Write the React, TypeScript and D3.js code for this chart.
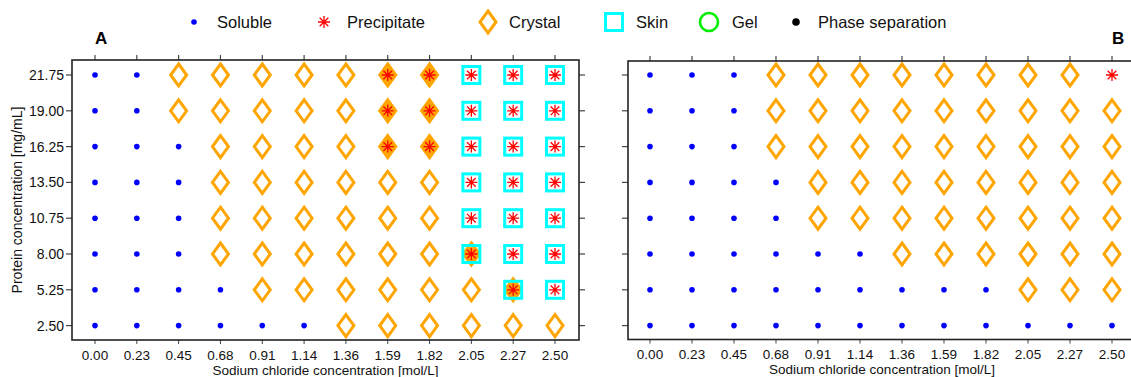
import React from "react";
import * as d3 from "d3";

// Sodium chloride concentrations (mol/L), one column per value
const sodiumChloride = [0, 0.2273, 0.4545, 0.6818, 0.9091, 1.1364, 1.3636, 1.5909, 1.8182, 2.0455, 2.2727, 2.5];
const sodiumTickLabels = ["0.00", "0.23", "0.45", "0.68", "0.91", "1.14", "1.36", "1.59", "1.82", "2.05", "2.27", "2.50"];

// Protein concentrations (mg/mL), rows listed top to bottom
const proteinConc = [21.75, 19.0, 16.25, 13.5, 10.75, 8.0, 5.25, 2.5];
const proteinTickLabels = ["21.75", "19.00", "16.25", "13.50", "10.75", "8.00", "5.25", "2.50"];

// Outcome codes: S soluble, C crystal, P precipitate, K skin, G gel, X phase separation
const outcomesA = [
  ["S", "S", "C", "C", "C", "C", "C", "CP", "CP", "KP", "KP", "KP"],
  ["S", "S", "C", "C", "C", "C", "C", "CP", "CP", "KP", "KP", "KP"],
  ["S", "S", "S", "C", "C", "C", "C", "CP", "CP", "KP", "KP", "KP"],
  ["S", "S", "S", "C", "C", "C", "C", "C", "C", "KP", "KP", "KP"],
  ["S", "S", "S", "C", "C", "C", "C", "C", "C", "KP", "KP", "KP"],
  ["S", "S", "S", "C", "C", "C", "C", "C", "C", "KCP", "KP", "KP"],
  ["S", "S", "S", "S", "C", "C", "C", "C", "C", "C", "KCP", "KP"],
  ["S", "S", "S", "S", "S", "S", "C", "C", "C", "C", "C", "C"],
];

const outcomesB = [
  ["S", "S", "S", "C", "C", "C", "C", "C", "C", "C", "C", "P"],
  ["S", "S", "S", "C", "C", "C", "C", "C", "C", "C", "C", "C"],
  ["S", "S", "S", "C", "C", "C", "C", "C", "C", "C", "C", "C"],
  ["S", "S", "S", "S", "C", "C", "C", "C", "C", "C", "C", "C"],
  ["S", "S", "S", "S", "C", "C", "C", "C", "C", "C", "C", "C"],
  ["S", "S", "S", "S", "S", "S", "C", "C", "C", "C", "C", "C"],
  ["S", "S", "S", "S", "S", "S", "S", "S", "S", "C", "C", "C"],
  ["S", "S", "S", "S", "S", "S", "S", "S", "S", "S", "S", "S"],
];

const legendItems = [
  { code: "S", label: "Soluble" },
  { code: "P", label: "Precipitate" },
  { code: "C", label: "Crystal" },
  { code: "K", label: "Skin" },
  { code: "G", label: "Gel" },
  { code: "X", label: "Phase separation" },
];

const FONT = "'Liberation Sans', Arial, Helvetica, sans-serif";
const BLUE = "#0000ff";
const ORANGE = "#ffa500";
const CYAN = "#00ffff";
const RED = "#ff0000";
const GREEN = "#00ee00";
const AXIS = "#222";
const TICK = "#444";

const diamondPath = (w: number, h: number) =>
  `M0,${-h / 2}L${w / 2},0L0,${h / 2}L${-w / 2},0Z`;

const asteriskPath = (r: number) => {
  const d = r * 0.72;
  return `M0,${-r}L0,${r}M${-r},0L${r},0M${-d},${-d}L${d},${d}M${-d},${d}L${d},${-d}`;
};

function Glyph({ code, x, y }: { code: string; x: number; y: number }) {
  const parts: React.ReactNode[] = [];
  const hasP = code.includes("P");
  if (code === "S") {
    parts.push(<circle key="s" r={2.8} fill={BLUE} />);
  }
  if (code === "X") {
    parts.push(<circle key="x" r={3.8} fill="#000" />);
  }
  if (code === "G") {
    parts.push(<circle key="g" r={9} fill="none" stroke={GREEN} strokeWidth={2.6} />);
  }
  if (code.includes("C")) {
    parts.push(
      <path
        key="c"
        d={diamondPath(16, 22)}
        fill={hasP ? ORANGE : "none"}
        stroke={ORANGE}
        strokeWidth={3}
        strokeLinejoin="miter"
      />
    );
  }
  if (code.includes("K")) {
    parts.push(
      <rect key="k" x={-8.5} y={-8.5} width={17} height={17} fill="none" stroke={CYAN} strokeWidth={3} />
    );
  }
  if (hasP) {
    parts.push(<path key="p" d={asteriskPath(6)} stroke={RED} strokeWidth={1.3} fill="none" />);
  }
  return <g transform={`translate(${x},${y})`}>{parts}</g>;
}

type PanelProps = {
  left: number;
  right: number;
  top: number;
  bottom: number;
  xRange: [number, number];
  yRange: [number, number];
  outcomes: string[][];
  letter: string;
  letterX: number;
  yLabels: boolean;
  rightTicks: boolean;
  leftTicks: boolean;
};

function Panel(p: PanelProps) {
  const x = d3.scaleLinear().domain([0, 2.5]).range(p.xRange);
  const y = d3.scaleLinear().domain([2.5, 21.75]).range(p.yRange);
  const midX = (p.left + p.right) / 2;
  return (
    <g>
      {/* top ticks */}
      {sodiumChloride.map((v, i) => (
        <line key={`tt${i}`} x1={x(v)} x2={x(v)} y1={p.top - 5} y2={p.top} stroke={TICK} strokeWidth={1.2} />
      ))}
      {/* bottom ticks + labels */}
      {sodiumChloride.map((v, i) => (
        <g key={`bt${i}`}>
          <line x1={x(v)} x2={x(v)} y1={p.bottom} y2={p.bottom + 4} stroke={TICK} strokeWidth={1} />
          <text x={x(v)} y={p.bottom + 19.5} textAnchor="middle" fontSize={13.5} fontFamily={FONT} fill="#111">
            {sodiumTickLabels[i]}
          </text>
        </g>
      ))}
      <text x={midX} y={p.bottom + 34.5} textAnchor="middle" fontSize={13.5} fontFamily={FONT} fill="#111">
        Sodium chloride concentration [mol/L]
      </text>
      {/* left / right ticks */}
      {proteinConc.map((v, i) => (
        <g key={`yt${i}`}>
          {p.leftTicks && (
            <line x1={p.left - 6} x2={p.left} y1={y(v)} y2={y(v)} stroke={TICK} strokeWidth={1.2} />
          )}
          {p.rightTicks && (
            <line x1={p.right} x2={p.right + 6} y1={y(v)} y2={y(v)} stroke={TICK} strokeWidth={1.2} />
          )}
          {p.yLabels && (
            <text x={p.left - 8} y={y(v) + 5} textAnchor="end" fontSize={14} fontFamily={FONT} fill="#111">
              {proteinTickLabels[i]}
            </text>
          )}
        </g>
      ))}
      {/* markers */}
      {p.outcomes.map((row, r) =>
        row.map((code, c) => (
          <Glyph key={`m${r}-${c}`} code={code} x={x(sodiumChloride[c])} y={y(proteinConc[r])} />
        ))
      )}
      {/* frame */}
      <rect
        x={p.left}
        y={p.top}
        width={p.right - p.left}
        height={p.bottom - p.top}
        fill="none"
        stroke={AXIS}
        strokeWidth={1.6}
      />
      <text x={p.letterX} y={44} fontSize={17} fontWeight="bold" fontFamily={FONT} fill="#000">
        {p.letter}
      </text>
    </g>
  );
}

export default function App() {
  const legendMarkX = [194, 324, 488, 614, 709, 796];
  const legendTextX = [217, 347, 509, 636, 732, 818];
  return (
    <svg
      width={1131}
      height={377}
      viewBox="0 0 1131 377"
      style={{ position: "absolute", left: 0, top: 0, display: "block", background: "#fff" }}
    >
      <rect width={1131} height={377} fill="#fff" />
      {/* legend */}
      {legendItems.map((it, i) => (
        <g key={it.label}>
          <Glyph code={it.code} x={legendMarkX[i]} y={22} />
          <text x={legendTextX[i]} y={28} fontSize={16.5} fontFamily={FONT} fill="#111">
            {it.label}
          </text>
        </g>
      ))}
      <Panel
        left={72}
        right={579}
        top={60}
        bottom={340}
        xRange={[95, 555]}
        yRange={[325.6, 75]}
        outcomes={outcomesA}
        letter="A"
        letterX={95}
        yLabels={true}
        leftTicks={true}
        rightTicks={true}
      />
      <Panel
        left={628}
        right={1136}
        top={61}
        bottom={339.5}
        xRange={[650, 1112]}
        yRange={[325.6, 75]}
        outcomes={outcomesB}
        letter="B"
        letterX={1112}
        yLabels={false}
        leftTicks={true}
        rightTicks={false}
      />
      <text
        transform="translate(22,200) rotate(-90)"
        textAnchor="middle"
        fontSize={14}
        fontFamily={FONT}
        fill="#111"
      >
        Protein concentration [mg/mL]
      </text>
    </svg>
  );
}
